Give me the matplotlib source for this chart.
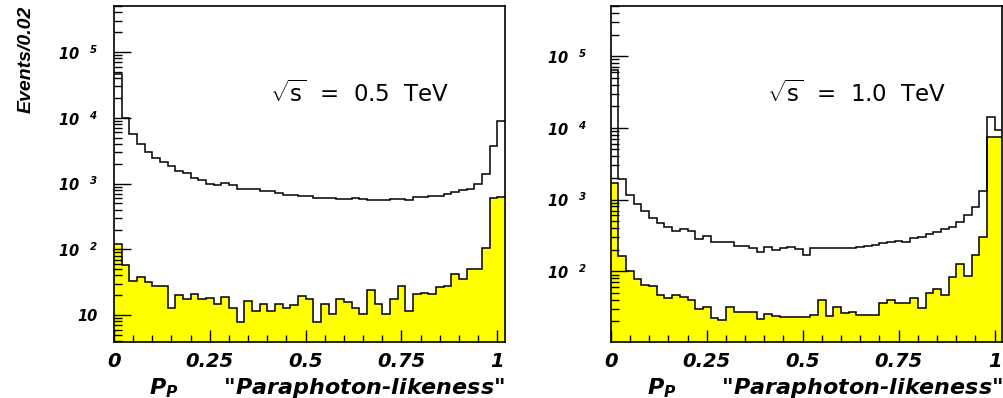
import numpy as np
import matplotlib
matplotlib.use('Agg')
import matplotlib.pyplot as plt
from matplotlib.ticker import LogLocator, NullFormatter, MultipleLocator

plt.rcParams['mathtext.fontset'] = 'custom'
plt.rcParams['mathtext.rm'] = 'DejaVu Sans:bold:italic'
plt.rcParams['mathtext.it'] = 'DejaVu Sans:bold:italic'
plt.rcParams['mathtext.bf'] = 'DejaVu Sans:bold:italic'
plt.rcParams['mathtext.sf'] = 'DejaVu Sans'

# 51 bins of width 0.02 from 0 to 1.02
bin_width = 0.02
n_bins = 51

# sqrt(s) = 0.5 TeV
total_05 = [47000, 9900, 5740, 3950, 3000, 2450, 2120, 1820, 1550, 1450,
            1220, 1150, 1000, 965, 1020, 940, 838, 820, 815, 775,
            770, 730, 665, 660, 640, 640, 612, 605, 600, 578,
            578, 598, 578, 570, 570, 557, 577, 590, 557, 625,
            625, 640, 640, 703, 745, 790, 838, 997, 1415, 3750,
            8900]
paraphoton_05 = [122, 57, 33, 38, 32, 27.5, 27.5, 12.6, 20.5, 17.4,
                 21, 17.4, 18, 14.6, 18.6, 12.6, 7.8, 16.5, 11.6, 15,
                 11.6, 15, 13, 14.2, 19.7, 17.8, 7.8, 14.8, 10.5, 17.4,
                 16, 13, 10.5, 24.4, 14.8, 10.5, 17.4, 27.8, 11.6, 21,
                 22, 20.7, 27, 27.8, 42.8, 36, 51, 51, 103, 604,
                 625]

# sqrt(s) = 1.0 TeV
total_10 = [65000, 1930, 1150, 880, 695, 545, 475, 415, 367, 383,
            367, 281, 312, 252, 252, 252, 226, 226, 212, 187,
            219, 197, 208, 219, 201, 168, 208, 208, 208, 210,
            210, 212, 215, 224, 231, 249, 258, 266, 258, 287,
            302, 326, 347, 383, 417, 490, 606, 792, 1324, 14260,
            9290]
paraphoton_10 = [1675, 163, 101, 79, 64, 63, 46.5, 41.7, 46.5, 44,
                 39.5, 29.3, 31.9, 22.6, 20.8, 31.9, 27, 27, 27, 21.5,
                 25.2, 24, 23.2, 23.2, 23.2, 23.2, 24.4, 39.5, 23.7, 31.3,
                 25.8, 27, 24.4, 24.4, 24.4, 35.5, 39.5, 35.5, 35.5, 41.7,
                 30.3, 49, 55.7, 46.5, 83.5, 128, 85, 168, 296, 7500,
                 7500]

x_ticks = [0, 0.25, 0.5, 0.75, 1]
x_labels = ['0', '0.25', '0.5', '0.75', '1']
energies = ['0.5', '1.0']

edges = np.arange(n_bins + 1) * bin_width

fig = plt.figure(figsize=(10.04, 3.98), dpi=100)
ax1 = fig.add_axes([0.1135, 0.1407, 0.3894, 0.8442])
ax2 = fig.add_axes([0.6083, 0.1407, 0.3900, 0.8442])


def ylab(v):
    e = int(round(np.log10(v)))
    if e == 1:
        return '10'
    return r'$10^{\quad %d}$' % e


def draw(ax, total, para, energy, ylim, ypad):
    ax.stairs(para, edges, fill=True, color='#ffff00', baseline=1)
    ax.stairs(para, edges, color='black', linewidth=1.1, baseline=None)
    ax.stairs(total, edges, color='black', linewidth=1.1, baseline=None)
    ax.set_yscale('log')
    ax.set_xlim(0, 1.02)
    ax.set_ylim(*ylim)
    ax.set_xticks(x_ticks, x_labels, fontsize=14, fontweight='bold',
                  fontstyle='italic', family='DejaVu Sans')
    ax.xaxis.set_minor_locator(MultipleLocator(0.05))
    yt = [10 ** k for k in range(1, 6) if 10 ** k >= ylim[0]]
    ax.set_yticks(yt, [ylab(v) for v in yt], fontsize=10.5, fontweight='bold',
                  fontstyle='italic', family='DejaVu Sans')
    ax.yaxis.set_minor_locator(LogLocator(base=10, subs=np.arange(2, 10), numticks=20))
    ax.yaxis.set_minor_formatter(NullFormatter())
    ax.tick_params(axis='x', which='major', direction='in', length=8.5, width=1, pad=7)
    ax.tick_params(axis='x', which='minor', direction='in', length=5, width=1)
    ax.tick_params(axis='y', which='major', direction='in', length=12.5, width=1, pad=ypad)
    ax.tick_params(axis='y', which='minor', direction='in', length=6, width=1)
    for s in ax.spines.values():
        s.set_linewidth(1.2)
    ax.text(0.4, 0.74, r'$\sqrt{\mathsf{s}}$  =  ' + energy + '  TeV',
            transform=ax.transAxes, fontsize=16.5, family='DejaVu Sans',
            va='center', ha='left')
    ax.set_xlabel(r'$P_P$      "Paraphoton-likeness"', loc='right',
                  fontsize=16, fontweight='bold', fontstyle='italic',
                  family='DejaVu Sans')
    ax.xaxis.set_label_coords(1.0, -0.10)
    ax.xaxis.label.set_va('top')


draw(ax1, total_05, paraphoton_05, energies[0], (3.9, 5e5), 12)
draw(ax2, total_10, paraphoton_10, energies[1], (10.3, 5e5), 17)

ax1.set_ylabel('Events/0.02', loc='top', fontsize=14, fontweight='bold',
               fontstyle='italic', family='Liberation Sans')
ax1.yaxis.set_label_coords(-0.202, 1.0)

fig.savefig('out.png', dpi=100)
